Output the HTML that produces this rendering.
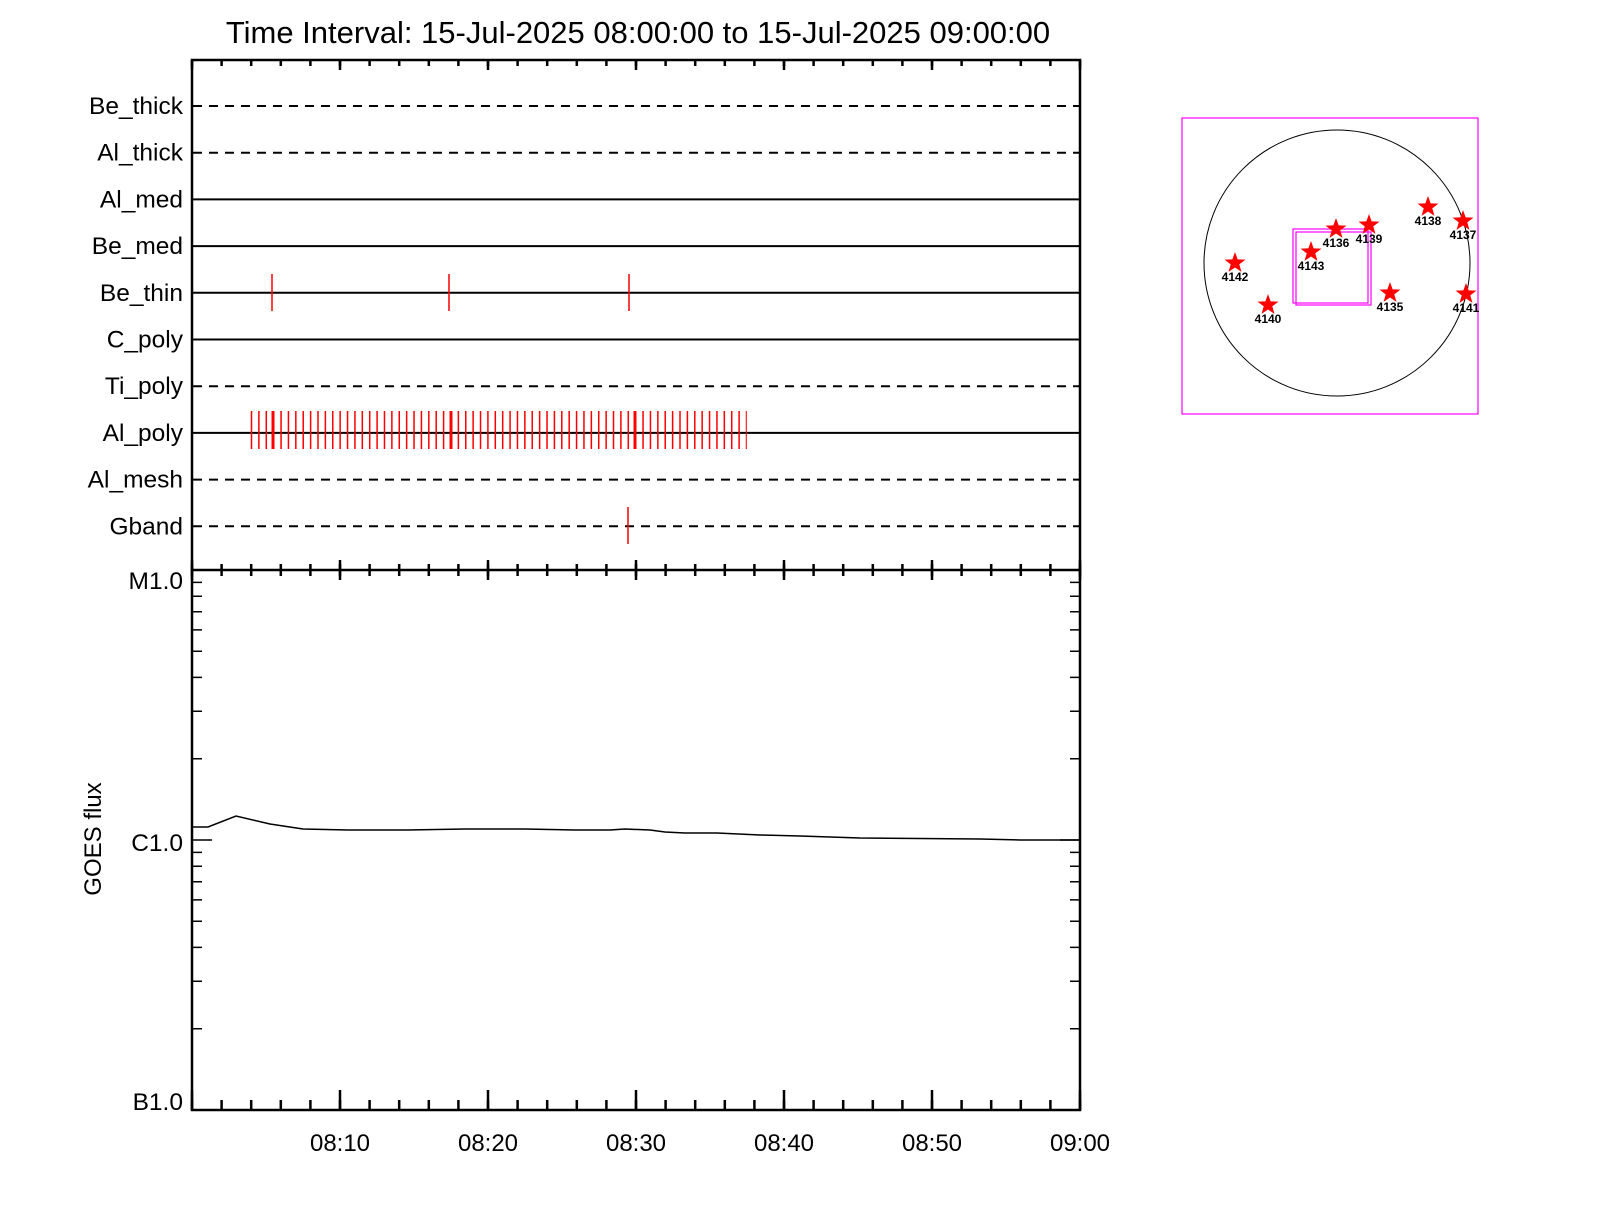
<!DOCTYPE html>
<html><head><meta charset="utf-8"><style>html,body{margin:0;padding:0;background:#fff} text{font-family:"Liberation Sans",sans-serif}</style></head>
<body>
<svg width="1600" height="1200" xmlns="http://www.w3.org/2000/svg" xmlns:xlink="http://www.w3.org/1999/xlink">
<defs>
<polygon id="st" points="0,-11 2.645,-3.64 10.46,-3.4 4.28,1.39 6.47,8.9 0,4.5 -6.47,8.9 -4.28,1.39 -10.46,-3.4 -2.645,-3.64" fill="#f00"/>
</defs>
<rect width="1600" height="1200" fill="#fff"/>
<text x="638" y="43" style="font-size:31px" text-anchor="middle">Time Interval: 15-Jul-2025 08:00:00 to 15-Jul-2025 09:00:00</text>

<g text-anchor="end" style="font-size:24.5px">
<text x="183" y="114">Be_thick</text>
<text x="183" y="160.7">Al_thick</text>
<text x="183" y="207.4">Al_med</text>
<text x="183" y="254.1">Be_med</text>
<text x="183" y="300.8">Be_thin</text>
<text x="183" y="347.5">C_poly</text>
<text x="183" y="394.2">Ti_poly</text>
<text x="183" y="440.9">Al_poly</text>
<text x="183" y="487.6">Al_mesh</text>
<text x="183" y="534.3">Gband</text>
</g>
<g stroke="#000" stroke-width="2" stroke-dasharray="9 7">
<line x1="193" y1="106" x2="1079" y2="106"/>
<line x1="193" y1="152.7" x2="1079" y2="152.7"/>
<line x1="193" y1="386.2" x2="1079" y2="386.2"/>
<line x1="193" y1="479.6" x2="1079" y2="479.6"/>
<line x1="193" y1="526.3" x2="1079" y2="526.3"/>
</g>
<g stroke="#000" stroke-width="2">
<line x1="193" y1="199.4" x2="1079" y2="199.4"/>
<line x1="193" y1="246.1" x2="1079" y2="246.1"/>
<line x1="193" y1="292.8" x2="1079" y2="292.8"/>
<line x1="193" y1="339.5" x2="1079" y2="339.5"/>
<line x1="193" y1="432.9" x2="1079" y2="432.9"/>
</g>

<g stroke="#000" fill="none" stroke-width="2.5">
<rect x="192" y="60" width="888" height="1050"/>
<line x1="192" y1="570" x2="1080" y2="570"/>
</g>
<g stroke="#000">
<line x1="190.75" y1="63" x2="1082" y2="63" stroke-width="6" stroke-dasharray="2.5 27.1"/>
<line x1="190.75" y1="65" x2="1082" y2="65" stroke-width="10" stroke-dasharray="2.5 145.5"/>
<line x1="190.75" y1="570" x2="1082" y2="570" stroke-width="12" stroke-dasharray="2.5 27.1"/>
<line x1="190.75" y1="570" x2="1082" y2="570" stroke-width="20" stroke-dasharray="2.5 145.5"/>
<line x1="190.75" y1="1105" x2="1082" y2="1105" stroke-width="10" stroke-dasharray="2.5 27.1"/>
<line x1="190.75" y1="1100" x2="1082" y2="1100" stroke-width="20" stroke-dasharray="2.5 145.5"/>
</g>
<path stroke="#000" stroke-width="1.5" fill="none" d="
M192,1028.7h10M192,981.2h10M192,947.4h10M192,921.3h10M192,899.9h10M192,881.8h10M192,866.2h10M192,852.4h10M192,840h20
M192,758.7h10M192,711.2h10M192,677.4h10M192,651.3h10M192,629.9h10M192,611.8h10M192,596.2h10M192,582.4h10
M1080,1028.7h-10M1080,981.2h-10M1080,947.4h-10M1080,921.3h-10M1080,899.9h-10M1080,881.8h-10M1080,866.2h-10M1080,852.4h-10M1080,840h-20
M1080,758.7h-10M1080,711.2h-10M1080,677.4h-10M1080,651.3h-10M1080,629.9h-10M1080,611.8h-10M1080,596.2h-10M1080,582.4h-10"/>

<g stroke="#f00" stroke-width="1.5">
<line x1="272" y1="274" x2="272" y2="311"/>
<line x1="449" y1="274" x2="449" y2="311"/>
<line x1="629" y1="274" x2="629" y2="311"/>
<line x1="628" y1="507" x2="628" y2="544"/>
</g>
<line x1="250.75" y1="430" x2="746.8" y2="430" stroke="#f00" stroke-width="38" stroke-dasharray="1.5 5.888"/>
<g stroke="#f00" stroke-width="3">
<line x1="273" y1="411" x2="273" y2="449"/>
<line x1="451" y1="411" x2="451" y2="449"/>
<line x1="635" y1="411" x2="635" y2="449"/>
</g>

<polyline fill="none" stroke="#000" stroke-width="1.5" points="192,827 208,827 236,816 270,824 303,829 348,830 407,830 465,829 525,829 575,830 610,830 625,829 650,830 665,832 685,833 717,833 760,835 800,836 860,838 980,839 1020,840 1080,840"/>
<g text-anchor="end" style="font-size:24.5px">
<text x="183" y="589">M1.0</text>
<text x="183" y="851">C1.0</text>
<text x="183" y="1110">B1.0</text>
</g>
<g text-anchor="middle" style="font-size:24px">
<text x="340" y="1151">08:10</text><text x="488" y="1151">08:20</text><text x="636" y="1151">08:30</text>
<text x="784" y="1151">08:40</text><text x="932" y="1151">08:50</text><text x="1080" y="1151">09:00</text>
</g>
<text x="0" y="0" style="font-size:24px" text-anchor="middle" transform="translate(101,839) rotate(-90)">GOES flux</text>

<g fill="none" stroke="#f0f" stroke-width="1.2">
<rect x="1182" y="118" width="296" height="296"/>
<rect x="1293" y="229" width="75" height="74"/>
<rect x="1296" y="232" width="75" height="73"/>
</g>
<circle cx="1337" cy="263" r="133" fill="none" stroke="#000" stroke-width="1"/>
<use xlink:href="#st" href="#st" x="1235" y="263"/>
<use xlink:href="#st" href="#st" x="1268" y="305"/>
<use xlink:href="#st" href="#st" x="1311" y="252"/>
<use xlink:href="#st" href="#st" x="1336" y="229"/>
<use xlink:href="#st" href="#st" x="1369" y="225"/>
<use xlink:href="#st" href="#st" x="1428" y="207"/>
<use xlink:href="#st" href="#st" x="1463" y="221"/>
<use xlink:href="#st" href="#st" x="1390" y="293"/>
<use xlink:href="#st" href="#st" x="1466" y="294"/>
<g text-anchor="middle" font-weight="bold" style="font-size:12px">
<text x="1235" y="281">4142</text>
<text x="1268" y="323">4140</text>
<text x="1311" y="270">4143</text>
<text x="1336" y="247">4136</text>
<text x="1369" y="243">4139</text>
<text x="1428" y="225">4138</text>
<text x="1463" y="239">4137</text>
<text x="1390" y="311">4135</text>
<text x="1466" y="312">4141</text>
</g>
</svg>
</body></html>
